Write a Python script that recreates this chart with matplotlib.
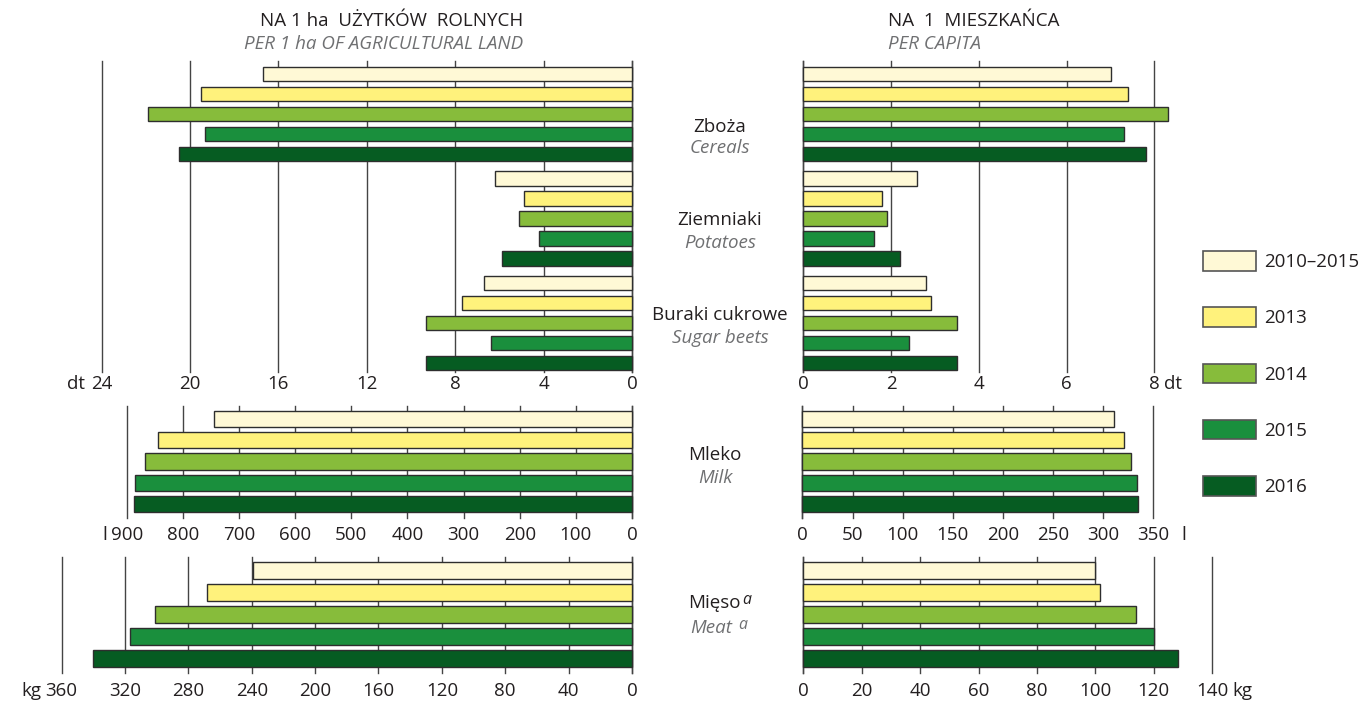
import matplotlib
matplotlib.use('Agg')
import matplotlib.pyplot as plt
from matplotlib.patches import Patch

W, H = 1365, 701
DPI = 100
plt.rcParams['font.family'] = ['Open Sans', 'DejaVu Sans']

# ---------------- data ----------------
series = ['2010–2015', '2013', '2014', '2015', '2016']
colors = ['#FFF9D6', '#FFF27C', '#87BC3B', '#1A8F3D', '#065C22']

crops_pl = ['Zboża', 'Ziemniaki', 'Buraki cukrowe']
crops_en = ['Cereals', 'Potatoes', 'Sugar beets']

# dt per 1 ha of agricultural land
cereals_ha = [16.7, 19.5, 21.9, 19.3, 20.5]
potatoes_ha = [6.2, 4.9, 5.1, 4.2, 5.9]
beets_ha = [6.7, 7.7, 9.3, 6.4, 9.3]
# dt per capita
cereals_pc = [7.0, 7.4, 8.3, 7.3, 7.8]
potatoes_pc = [2.6, 1.8, 1.9, 1.6, 2.2]
beets_pc = [2.8, 2.9, 3.5, 2.4, 3.5]
# milk, litres
milk_ha = [744, 845, 867, 885, 887]
milk_pc = [311, 321, 328, 334, 335]
# meat, kg
meat_ha = [239, 268, 301, 317, 340]
meat_pc = [100, 101.5, 114, 120, 128.5]

ticks_crops_ha = [24, 20, 16, 12, 8, 4, 0]
ticks_crops_pc = [0, 2, 4, 6, 8]
ticks_milk_ha = [900, 800, 700, 600, 500, 400, 300, 200, 100, 0]
ticks_milk_pc = [0, 50, 100, 150, 200, 250, 300, 350]
ticks_meat_ha = [360, 320, 280, 240, 200, 160, 120, 80, 40, 0]
ticks_meat_pc = [0, 20, 40, 60, 80, 100, 120, 140]

# ---------------- style ----------------
EDGE = '#2E2E2E'
GRID = '#444444'
TXT = '#231F20'
GREY = '#6F7072'
FS = 13.5

fig = plt.figure(figsize=(W / DPI, H / DPI), dpi=DPI)


def px_axes(x0, y0, x1, y1):
    return fig.add_axes([x0 / W, 1 - y1 / H, (x1 - x0) / W, (y1 - y0) / H])


def ftext(x, y, s, **kw):
    return fig.text(x / W, 1 - y / H, s, **kw)


def panel(ax, groups, xlim, ticks, first, gstep, step, bh, hpx, pad, side):
    ax.set_xlim(*xlim)
    ax.set_ylim(hpx, 0)
    for g, vals in enumerate(groups):
        ys = [first + g * gstep + i * step for i in range(len(vals))]
        ax.barh(ys, vals, height=bh, color=colors, edgecolor=EDGE,
                linewidth=1.0, zorder=3, clip_on=False)
    ax.set_xticks(ticks)
    ax.set_xticklabels([str(t) for t in ticks])
    ax.set_yticks([])
    ax.grid(axis='x', color=GRID, linewidth=1.0, zorder=0)
    for gl in ax.get_xgridlines():
        gl.set_clip_on(False)
    ax.set_axisbelow(True)
    for s in ['top', 'bottom', 'left', 'right']:
        ax.spines[s].set_visible(False)
    ax.spines[side].set_visible(True)
    ax.spines[side].set_color(GRID)
    ax.spines[side].set_linewidth(1.0)
    ax.tick_params(axis='x', length=0, labelsize=FS, pad=pad, labelcolor=TXT)
    ax.set_facecolor('none')


def unit(ax, xval, s, dx, ha, pad):
    ax.annotate(s, xy=(xval, 0), xycoords=('data', 'axes fraction'),
                xytext=(dx, -pad * DPI / 72), textcoords='offset pixels',
                ha=ha, va='top', fontsize=FS, color=TXT)


# ---- top panels: crops ----
top_first, top_gstep, top_step, top_bh = 12.8, 104.5, 20.0, 14.5
PAD_TOP, PAD_MILK, PAD_MEAT = 2.2, 5.7, 6.0

ax_tl = px_axes(101.6, 61, 632, 371.7)
panel(ax_tl, [cereals_ha, potatoes_ha, beets_ha], (24, 0), ticks_crops_ha,
      top_first, top_gstep, top_step, top_bh, 371.7 - 61, PAD_TOP, 'right')
unit(ax_tl, 24, 'dt', -17, 'right', PAD_TOP)

ax_tr = px_axes(803.4, 61, 1154.4, 371.7)
panel(ax_tr, [cereals_pc, potatoes_pc, beets_pc], (0, 8), ticks_crops_pc,
      top_first, top_gstep, top_step, top_bh, 371.7 - 61, PAD_TOP, 'left')
unit(ax_tr, 8, 'dt', 10, 'left', PAD_TOP)

# ---- milk ----
ax_ml = px_axes(126.8, 406, 632, 518.3)
panel(ax_ml, [milk_ha], (900, 0), ticks_milk_ha,
      12.7, 0, 21.4, 16.3, 518.3 - 406, PAD_MILK, 'right')
unit(ax_ml, 900, 'l', -20, 'right', PAD_MILK)

ax_mr = px_axes(802.4, 406, 1153.4, 518.3)
panel(ax_mr, [milk_pc], (0, 350), ticks_milk_pc,
      12.7, 0, 21.4, 16.3, 518.3 - 406, PAD_MILK, 'left')
unit(ax_mr, 350, 'l', 30, 'center', PAD_MILK)

# ---- meat ----
ax_bl = px_axes(61.6, 556.7, 632, 673.3)
panel(ax_bl, [meat_ha], (360, 0), ticks_meat_ha,
      13.8, 0, 22.0, 17.6, 673.3 - 556.7, PAD_MEAT, 'right')
unit(ax_bl, 360, 'kg', -20, 'right', PAD_MEAT)

ax_br = px_axes(803.4, 556.7, 1212, 673.3)
panel(ax_br, [meat_pc], (0, 140), ticks_meat_pc,
      13.8, 0, 22.0, 17.6, 673.3 - 556.7, PAD_MEAT, 'left')
unit(ax_br, 140, 'kg', 20, 'left', PAD_MEAT)

# ---- titles ----
ftext(523, 21, 'NA 1 ha  UŻYTKÓW  ROLNYCH', ha='right', va='center',
      fontsize=FS, color=TXT)
ftext(523, 44, 'PER 1 ha OF AGRICULTURAL LAND', ha='right', va='center',
      fontsize=FS, color=GREY, style='italic')
ftext(888, 21, 'NA  1  MIESZKAŃCA', ha='left', va='center',
      fontsize=FS, color=TXT)
ftext(888, 44, 'PER CAPITA', ha='left', va='center',
      fontsize=FS, color=GREY, style='italic')

# ---- category labels ----
cat_y = [(127, 148), (220, 243.5), (314.5, 338)]
for (ypl, yen), pl, en in zip(cat_y, crops_pl, crops_en):
    ftext(720, ypl, pl, ha='center', va='center', fontsize=FS, color=TXT)
    ftext(720, yen, en, ha='center', va='center', fontsize=FS, color=GREY,
          style='italic')

ftext(715, 455, 'Mleko', ha='center', va='center', fontsize=FS, color=TXT)
ftext(715, 478, 'Milk', ha='center', va='center', fontsize=FS, color=GREY,
      style='italic')

t1 = ftext(688, 603, 'Mięso', ha='left', va='center', fontsize=FS, color=TXT)
t2 = ftext(690, 628, 'Meat', ha='left', va='center', fontsize=FS, color=GREY,
           style='italic')
fig.canvas.draw()
for t, col, gap in [(t1, TXT, 2), (t2, GREY, 6)]:
    plt.annotate('a', xy=(1, 1), xycoords=t, xytext=(gap, -6),
                 textcoords='offset pixels', ha='left', va='center',
                 fontsize=FS * 0.85, color=col, style='italic')

# ---- legend ----
handles = [Patch(facecolor=c, edgecolor='#555555', linewidth=1.2, label=s)
           for c, s in zip(colors, series)]
fig.legend(handles=handles, loc='upper left',
           bbox_to_anchor=(1203 / W, 1 - 251 / H), frameon=False,
           fontsize=FS, handlelength=2.83, handleheight=1.23,
           handletextpad=0.42, labelspacing=1.93, borderpad=0,
           borderaxespad=0, labelcolor=TXT)

fig.savefig('out.png', dpi=DPI)
